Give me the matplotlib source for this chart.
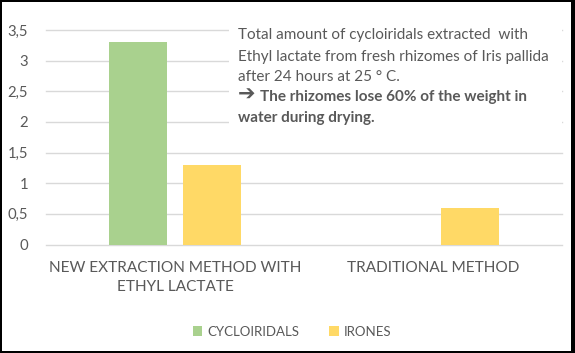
import matplotlib
matplotlib.use("Agg")
import matplotlib.pyplot as plt
from matplotlib.patches import Rectangle

categories = ["NEW EXTRACTION METHOD WITH\nETHYL LACTATE", "TRADITIONAL METHOD"]
series_names = ["CYCLOIRIDALS", "IRONES"]
cycloiridals = [3.3, 0.0]
irones = [1.3, 0.6]
yticks = [0, 0.5, 1, 1.5, 2, 2.5, 3, 3.5]
ytick_labels = ["0", "0,5", "1", "1,5", "2", "2,5", "3", "3,5"]
note_lines = ["Total amount of cycloiridals extracted  with",
              "Ethyl lactate from fresh rhizomes of Iris pallida",
              "after 24 hours at 25 \u00b0 C."]
note_bold = ["The rhizomes lose 60% of the weight in",
             "water during drying."]

W, H = 575, 353
plt.rcParams['font.family'] = ['Lato', 'DejaVu Sans']
fig = plt.figure(figsize=(W / 100, H / 100), dpi=100)
fig.patch.set_facecolor('black')
fig.add_artist(Rectangle((2 / W, 2 / H), (571 - 2) / W, (351 - 2) / H,
                         transform=fig.transFigure, facecolor='white',
                         edgecolor='none', zorder=0))

ax = fig.add_axes([46 / W, 1 - 244.5 / H, (562 - 46) / W, (244.5 - 30) / H])
ax.set_facecolor('none')
green = '#A9D18E'
yellow = '#FFD966'
text_col = '#595959'
x = range(len(categories))
w = 0.225
off = 0.143
ax.bar([i - off for i in x], cycloiridals, width=w, color=green, label=series_names[0], zorder=3)
ax.bar([i + off for i in x], irones, width=w, color=yellow, label=series_names[1], zorder=3)

ax.set_xlim(-0.5, 1.5)
ax.set_ylim(0, 3.5)
ax.set_yticks(yticks)
ax.set_yticklabels(ytick_labels)
ax.set_xticks(list(x))
ax.set_xticklabels(categories, linespacing=1.4)
ax.tick_params(axis='y', length=0, pad=13, labelsize=10.7, labelcolor=text_col)
ax.tick_params(axis='x', length=0, pad=12, labelsize=11.1, labelcolor=text_col)
for s in ax.spines.values():
    s.set_visible(False)
ax.yaxis.grid(True, color='#D9D9D9', linewidth=1, zorder=0)
ax.set_axisbelow(True)
for gl in ax.get_ygridlines():
    gl.set_clip_on(False)

# white box behind the note
fig.add_artist(Rectangle((229 / W, 1 - 135 / H), (562 - 229) / W, (135 - 15) / H,
                         transform=fig.transFigure, facecolor='white',
                         edgecolor='none', zorder=2))
baselines = [39, 60.5, 81, 101.5, 122]
fs = 11.0
for line, yb in zip(note_lines, baselines[:3]):
    fig.text(238 / W, 1 - yb / H, line, fontsize=fs, color=text_col,
             va='baseline', ha='left', zorder=3)
fig.text(238 / W, 1 - (baselines[3] - 0.5) / H, "\u2794", fontsize=15, color=text_col,
         family='DejaVu Sans', fontweight='bold', va='baseline', ha='left', zorder=3)
fig.text(260 / W, 1 - baselines[3] / H, note_bold[0], fontsize=fs, color=text_col,
         fontweight='bold', va='baseline', ha='left', zorder=3)
fig.text(238 / W, 1 - baselines[4] / H, note_bold[1], fontsize=fs, color=text_col,
         fontweight='bold', va='baseline', ha='left', zorder=3)

leg = fig.legend(loc='center', bbox_to_anchor=(292 / W, 1 - 331.5 / H),
                 ncol=2, frameon=False, fontsize=9.5, handlelength=0.75,
                 handleheight=0.75, handletextpad=0.4, columnspacing=2.2)
for t in leg.get_texts():
    t.set_color(text_col)

fig.savefig('out.png', dpi=100, facecolor=fig.get_facecolor())
